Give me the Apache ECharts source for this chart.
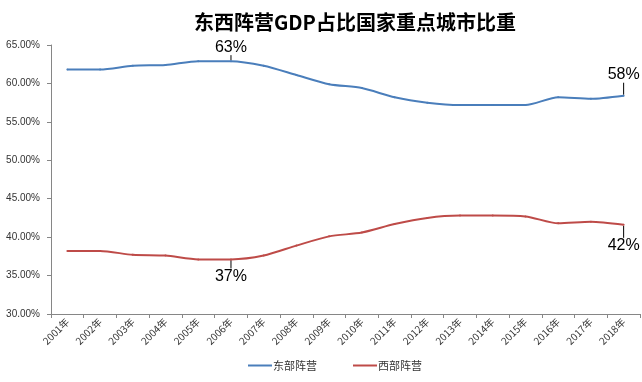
<!DOCTYPE html>
<html><head><meta charset="utf-8">
<script src="https://cdn.jsdelivr.net/npm/echarts@6/dist/echarts.min.js"></script>
<style>html,body{margin:0;padding:0;background:#fff}#c{width:642px;height:382px}</style>
</head><body><div id="c"></div>
<script>
var years = ['2001年','2002年','2003年','2004年','2005年','2006年','2007年','2008年','2009年','2010年','2011年','2012年','2013年','2014年','2015年','2016年','2017年','2018年'];
var east = [61.8,61.8,62.3,62.4,62.9,62.9,62.3,61.1,59.9,59.4,58.2,57.5,57.2,57.2,57.2,58.2,58.0,58.4];
var west = [38.2,38.2,37.7,37.6,37.1,37.1,37.6,38.9,40.1,40.6,41.7,42.5,42.8,42.8,42.7,41.8,42.0,41.6];
var eastLabels = {5:'63%',17:'58%'};
var westLabels = {5:'37%',17:'42%'};
var seriesNames = ['东部阵营','西部阵营'];

function mk(vals, labels, pos){
  return vals.map(function(v,i){
    var d = {value:v};
    if(labels[i]){
      d.label = {show:true, formatter:labels[i], position:pos, distance:2, fontSize:16, color:'#000', fontFamily:'Liberation Sans'};
      d.labelLine = {show:true, lineStyle:{color:'#000',width:1}};
    }
    return d;
  });
}

var chart = echarts.init(document.getElementById('c'));
chart.setOption({
  animation:false,
  title:{text:'东西阵营GDP占比国家重点城市比重', left:189, top:7,
    textStyle:{fontSize:20,fontWeight:'bold',color:'#000',fontFamily:'Noto Sans CJK SC'}},
  legend:{top:360, left:248, padding:0, itemGap:36, itemWidth:24, itemHeight:2, icon:'rect',
    textStyle:{fontSize:11,color:'#333',fontFamily:'Noto Sans CJK SC', padding:[0,0,0,-4]}, data:seriesNames},
  grid:{left:51, right:2, top:45, bottom:68},
  xAxis:{type:'category', data:years, boundaryGap:true,
    axisLine:{lineStyle:{color:'#868686'}},
    axisTick:{show:true, alignWithLabel:false, length:4, lineStyle:{color:'#868686'}},
    axisLabel:{rotate:45, fontSize:10, color:'#333', margin:6, interval:0, fontFamily:'Noto Sans CJK SC'}},
  yAxis:{type:'value', min:30, max:65, interval:5,
    axisLine:{show:true, lineStyle:{color:'#868686'}},
    axisTick:{show:true, length:4, lineStyle:{color:'#868686'}},
    splitLine:{show:false},
    axisLabel:{fontSize:10, color:'#333', margin:11, fontFamily:'Liberation Sans', formatter:function(v){return v.toFixed(2)+'%';}}},
  series:[
    {name:seriesNames[0], type:'line', smooth:0.25, symbol:'circle', symbolSize:2, showSymbol:true, data:mk(east,eastLabels,'top'),
      lineStyle:{color:'#4a7ebb',width:2}, itemStyle:{color:'#4a7ebb'},
      labelLayout:function(p){ return {dy: p.dataIndex===17 ? -10 : -3}; }},
    {name:seriesNames[1], type:'line', smooth:0.25, symbol:'circle', symbolSize:2, showSymbol:true, data:mk(west,westLabels,'bottom'),
      lineStyle:{color:'#be4b48',width:2}, itemStyle:{color:'#be4b48'},
      labelLayout:function(p){ return {dy: p.dataIndex===17 ? 10 : 6}; }}
  ]
});
</script></body></html>
